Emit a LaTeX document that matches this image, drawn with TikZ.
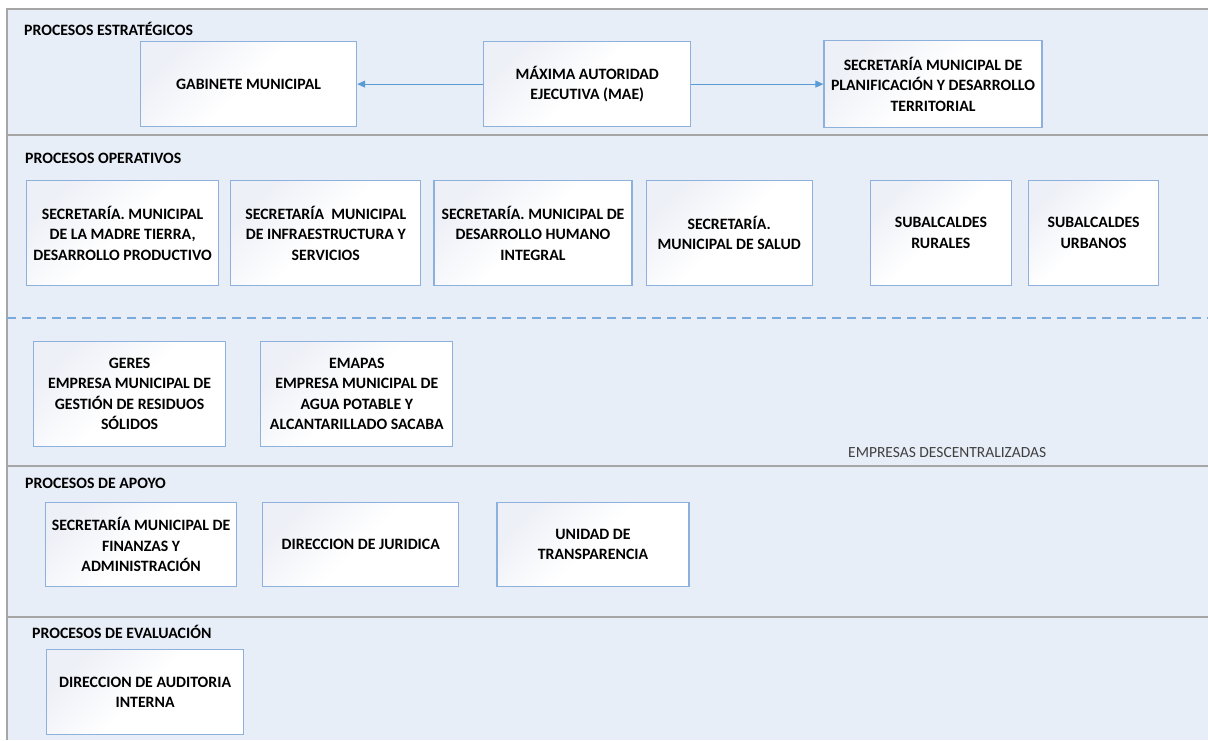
\documentclass[tikz,border=0pt]{standalone}
\usepackage{fontspec}
\setmainfont{Carlito}
\usetikzlibrary{arrows.meta,positioning}

\definecolor{bandfill}{HTML}{E8EEF8}
\definecolor{bandline}{HTML}{A6A6A6}
\definecolor{boxline}{HTML}{8DB1DC}
\definecolor{boxshade}{HTML}{EEF0F7}
\definecolor{arrowblue}{HTML}{5B9BD5}
\definecolor{dashblue}{HTML}{7AAADC}

\begin{document}
\begin{tikzpicture}[x=1pt,y=-1pt,
  unit/.style={draw=boxline, line width=1.2pt, top color=boxshade, bottom color=white,
    middle color=white, shading angle=45, align=center, inner sep=2pt,
    font=\bfseries\fontsize{15.8}{20.5}\selectfont},
  bandtitle/.style={anchor=base west, inner sep=0pt, font=\bfseries\fontsize{15.8}{20}\selectfont},
  band/.style={draw=bandline, line width=1.5pt},
  link/.style={draw=arrowblue, line width=1pt, -{Triangle[length=8pt,width=7pt]}}]
\useasboundingbox (0,0) rectangle (1208,740);
\fill[bandfill] (7,9) rectangle (1208,740);
\draw[band] (7,740) -- (7,9) -- (1208,9);
\draw[band] (7,135) -- (1208,135);
\draw[band] (7,466) -- (1208,466);
\draw[band] (7,617) -- (1208,617);
\draw[dashblue, line width=1.5pt, dash pattern=on 9pt off 6pt] (7,318) -- (1208,318);

% procesos estrategicos
\node[bandtitle] (estrategicos) at (24,35) {PROCESOS ESTRATÉGICOS};
\node[unit, minimum width=216pt, minimum height=85pt, anchor=north west] (gab) at (140,41) {GABINETE MUNICIPAL};
\node[unit, minimum width=207pt, minimum height=85pt, right=126pt of gab] (mae) {MÁXIMA AUTORIDAD\\EJECUTIVA (MAE)};
\node[unit, minimum width=218pt, minimum height=87pt, right=132pt of mae] (plan) {SECRETARÍA MUNICIPAL DE\\PLANIFICACIÓN Y DESARROLLO\\TERRITORIAL};
\draw[link] (mae) -- (gab);
\draw[link] (mae) -- (plan);

% procesos operativos
\node[bandtitle] (operativos) at (25,163) {PROCESOS OPERATIVOS};
\node[unit, minimum width=192pt, minimum height=105pt, anchor=north west] (madre) at (26,180) {SECRETARÍA. MUNICIPAL\\DE LA MADRE TIERRA,\\DESARROLLO PRODUCTIVO};
\node[unit, minimum width=190pt, minimum height=105pt, right=11pt of madre] (infra) {SECRETARÍA\ \ MUNICIPAL\\DE INFRAESTRUCTURA Y\\SERVICIOS};
\node[unit, minimum width=198pt, minimum height=105pt, right=12pt of infra] (humano) {SECRETARÍA. MUNICIPAL DE\\DESARROLLO HUMANO\\INTEGRAL};
\node[unit, minimum width=166pt, minimum height=105pt, right=13pt of humano] (salud) {SECRETARÍA.\\MUNICIPAL DE SALUD};
\node[unit, minimum width=141pt, minimum height=105pt, right=57pt of salud] (rurales) {SUBALCALDES\\RURALES};
\node[unit, minimum width=130pt, minimum height=105pt, right=16pt of rurales] (urbanos) {SUBALCALDES\\URBANOS};

% empresas
\node[unit, minimum width=192pt, minimum height=105pt, anchor=north west] (geres) at (33,341) {GERES\\EMPRESA MUNICIPAL DE\\GESTIÓN DE RESIDUOS\\SÓLIDOS};
\node[unit, minimum width=192pt, minimum height=105pt, right=34pt of geres] (emapas) {EMAPAS\\EMPRESA MUNICIPAL DE\\AGUA POTABLE Y\\ALCANTARILLADO SACABA};
\node[anchor=base west, inner sep=0pt, text=black!75, font=\fontsize{15.5}{18}\selectfont] (descentralizadas) at (848,457) {EMPRESAS DESCENTRALIZADAS};

% procesos de apoyo
\node[bandtitle] (apoyo) at (25,488) {PROCESOS DE APOYO};
\node[unit, minimum width=191pt, minimum height=84pt, anchor=north west] (finanzas) at (45,502) {SECRETARÍA MUNICIPAL DE\\FINANZAS Y\\ADMINISTRACIÓN};
\node[unit, minimum width=196pt, minimum height=84pt, right=25pt of finanzas] (juridica) {DIRECCION DE JURIDICA};
\node[unit, minimum width=192pt, minimum height=84pt, right=37pt of juridica] (transparencia) {UNIDAD DE\\TRANSPARENCIA};

% procesos de evaluacion
\node[bandtitle] (evaluacion) at (32,638) {PROCESOS DE EVALUACIÓN};
\node[unit, minimum width=197pt, minimum height=85pt, anchor=north west] (auditoria) at (46,649) {DIRECCION DE AUDITORIA\\INTERNA};
\end{tikzpicture}
\end{document}
